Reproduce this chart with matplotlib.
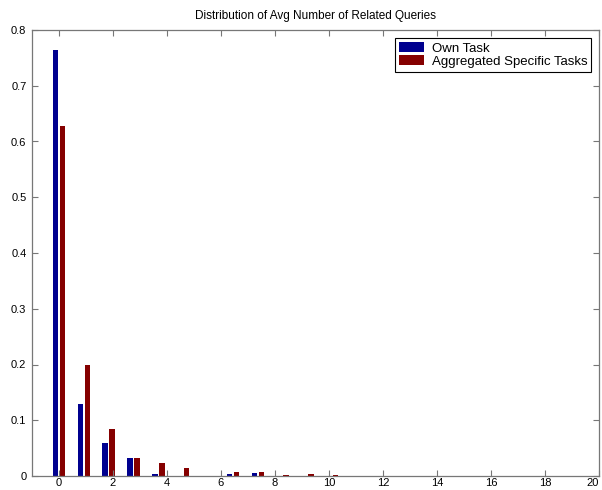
import matplotlib
matplotlib.use("Agg")
import matplotlib.pyplot as plt
import numpy as np

plt.rcParams['font.family'] = ['Liberation Sans', 'DejaVu Sans']

# Histogram bin centres and normalised frequencies
bin_centers = [0.0, 0.92, 1.84, 2.76, 3.68, 4.60, 5.52, 6.44, 7.36, 8.28, 9.20, 10.12]
own_task = [0.765, 0.130, 0.060, 0.032, 0.003, 0.0, 0.0, 0.0035, 0.0054, 0.0, 0.0, 0.0]
aggregated = [0.628, 0.199, 0.084, 0.032, 0.023, 0.014, 0.0, 0.0066, 0.0078, 0.002, 0.003, 0.0015]

series_labels = ["Own Task", "Aggregated Specific Tasks"]
xticks = [0, 2, 4, 6, 8, 10, 12, 14, 16, 18, 20]
yticks = [0, 0.1, 0.2, 0.3, 0.4, 0.5, 0.6, 0.7, 0.8]

fig = plt.figure(figsize=(6.02, 4.90), dpi=100)
ax = fig.add_axes([32 / 602, 14 / 490, 567 / 602, 446 / 490])

x = np.array(bin_centers)
width = 0.2
offset = 0.13
ax.bar(x - offset, own_task, width, color="#00008F", label=series_labels[0])
ax.bar(x + offset, aggregated, width, color="#850000", label=series_labels[1])

ax.set_xlim(-1, 20)
ax.set_ylim(0, 0.8)
ax.set_xticks(xticks)
ax.set_yticks(yticks)
ax.set_yticklabels([f"{v:g}" for v in yticks])
ax.tick_params(direction="in", length=4, width=0.8, color="#777777",
               labelsize=8, top=True, right=True)
ax.tick_params(axis="x", pad=1.5)
ax.tick_params(axis="y", pad=4)
for s in ax.spines.values():
    s.set_color("#777777")
    s.set_linewidth(0.9)

# keep the last x tick label inside the canvas
xlabels = ax.get_xticklabels()
xlabels[-1].set_horizontalalignment("right")

ax.set_title("Distribution of Avg Number of Related Queries", fontsize=8.5, pad=8)

leg = ax.legend(loc="upper right", fontsize=9.5, fancybox=False, framealpha=1,
                edgecolor="black", handlelength=1.9, handleheight=0.8,
                handletextpad=0.6, borderaxespad=0.6, labelspacing=0.05,
                borderpad=0.3)
leg.get_frame().set_linewidth(0.8)

fig.savefig("out.png", dpi=100)
